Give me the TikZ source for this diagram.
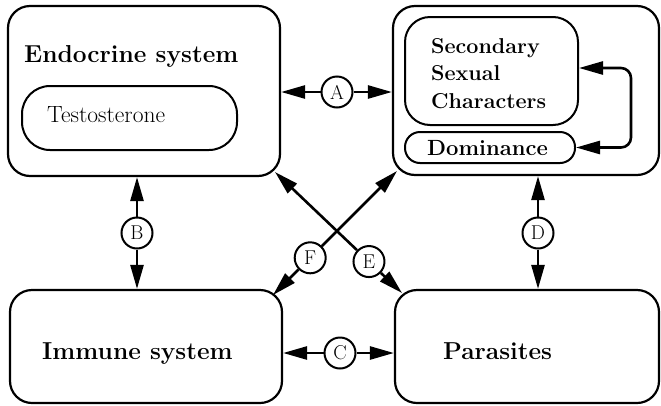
\documentclass[tikz,border=0pt]{standalone}
\usepackage{fontspec}
\usetikzlibrary{arrows.meta,calc}
\begin{document}
\begin{tikzpicture}[x=1pt,y=-1pt,
  box/.style={draw, line width=2.2pt, rounded corners=22pt, inner sep=0pt},
  ibox/.style={draw, line width=2pt, inner sep=0pt},
  lab/.style={anchor=base west, inner sep=0pt, font=\fontsize{24.5}{28}\selectfont\bfseries},
  letter/.style={draw, circle, line width=2pt, minimum size=31pt, inner sep=0pt, font=\fontsize{20}{20}\selectfont},
  tip/.tip={Triangle[length=24pt,width=13pt]},
  arr/.style={line width=2.6pt, -tip},
]
\useasboundingbox (0,0) rectangle (661,405);
% boxes
\node[box, minimum width=272pt, minimum height=170pt] (endo) at (144,91) {};
\node[box, minimum width=266pt, minimum height=169pt] (ssx) at (526,90.5) {};
\node[box, minimum width=272pt, minimum height=113pt] (imm) at (146,346.5) {};
\node[box, minimum width=264pt, minimum height=113pt] (par) at (527,346.5) {};
\node[ibox, rounded corners=28pt, minimum width=215pt, minimum height=64pt] (testo) at (129.5,118) {};
\node[ibox, rounded corners=25pt, minimum width=173pt, minimum height=108pt] (ssc) at (491.5,71) {};
\node[ibox, rounded corners=15pt, minimum width=170pt, minimum height=31pt] (dom) at (490,147.5) {};
% texts
\node[lab] (tEndo) at (24,62) {Endocrine system};
\node[lab, font=\fontsize{23.5}{28}\selectfont] (tTesto) at (47,122) {Testosterone};
\node[lab, font=\fontsize{21.5}{27.5}\selectfont\bfseries, align=left] (tSsc) at (431,108) {Secondary\\Sexual\\Characters};
\node[lab, font=\fontsize{22}{26}\selectfont\bfseries] (tDom) at (427,155) {Dominance};
\node[lab] (tImm) at (42,359) {Immune system};
\node[lab] (tPar) at (443,359) {Parasites};
% circles
\coordinate (eTop) at (275,172);
\coordinate (eBot) at (402,293);
\coordinate (fTop) at (397,171);
\coordinate (fBot) at (273,295);
\node[letter] (cA) at (337,92) {A};
\node[letter] (cB) at (137,233) {B};
\node[letter] (cC) at (340,353) {C};
\node[letter] (cD) at (538,233) {D};
\node[letter] (cE) at ($(eTop)!0.74!(eBot)$) {E};
\node[letter] (cF) at ($(fTop)!0.70!(fBot)$) {F};
% arrows
\draw[arr] (cA) -- (endo.east |- cA);
\draw[arr] (cA) -- (ssx.west |- cA);
\draw[arr] (cB) -- (cB |- endo.south);
\draw[arr] (cB) -- (cB |- imm.north);
\draw[arr] (cC) -- (imm.east |- cC);
\draw[arr] (cC) -- (par.west |- cC);
\draw[arr] (cD) -- (cD |- ssx.south);
\draw[arr] (cD) -- (cD |- par.north);
\draw[arr] (cE) -- (eTop);
\draw[arr] (cE) -- (eBot);
\draw[arr] (cF) -- (fTop);
\draw[arr] (cF) -- (fBot);
\draw[line width=2.6pt, tip-tip, rounded corners=10pt] ([yshift=3pt]ssc.east) -- ++(52,0) |- (dom.east);
\end{tikzpicture}
\end{document}
